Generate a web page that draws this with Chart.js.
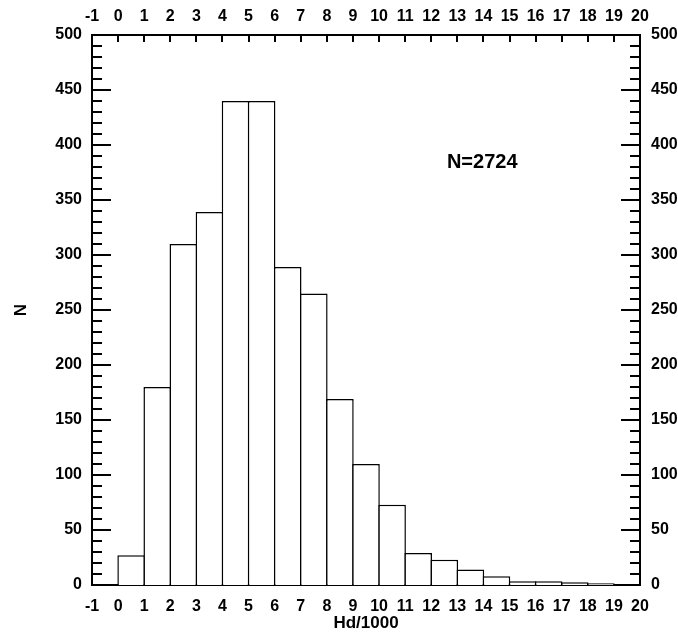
<!DOCTYPE html>
<html>
<head>
<meta charset="utf-8">
<script src="https://cdn.jsdelivr.net/npm/chart.js@4.4.1/dist/chart.umd.min.js"></script>
<style>
  body { margin: 0; background: #fff; }
  #wrap { width: 678px; height: 637px; }
</style>
</head>
<body>
<div id="wrap"><canvas id="histo" width="678" height="637"></canvas></div>
<script>
// bin edges (Hd/1000) and counts per bin
const binEdges = [0, 1, 2, 3, 4, 5, 6, 7, 8, 9, 10, 11, 12, 13, 14, 15, 16, 17, 18, 19, 20];
const counts = [27, 180, 310, 339, 440, 440, 289, 265, 169, 110, 73, 29, 23, 14, 8, 3.5, 3.5, 2.5, 1.5, 0];
const xTicks = [-1, 20];   // x range
const yTicks = [0, 500];   // y range
const totalLabel = 'N=2724';

const fontFam = '"Liberation Sans", Arial, sans-serif';
const lineW = 1.5;

// bars go from edge to edge, so use bin middle as the x value
const points = counts.map(function (c, i) {
    return { x: (binEdges[i] + binEdges[i + 1]) / 2, y: c };
});

// inward tick marks on all four sides
const innerTicks = {
    id: 'innerTicks',
    afterDraw: function (chart) {
        const ctx = chart.ctx;
        const a = chart.chartArea;
        ctx.save();
        ctx.strokeStyle = '#000';
        ctx.lineWidth = 2;
        ctx.beginPath();
        const yl = chart.scales.y;
        for (let v = yTicks[0]; v <= yTicks[1]; v += 10) {
            const p = Math.round(yl.getPixelForValue(v));
            const len = (v % 50 === 0) ? 19 : 10;
            ctx.moveTo(a.left, p); ctx.lineTo(a.left + len, p);
            ctx.moveTo(a.right, p); ctx.lineTo(a.right - len, p);
        }
        const xt = chart.scales.x2;
        for (let v = xTicks[0] + 1; v < xTicks[1]; v++) {
            const p = Math.round(xt.getPixelForValue(v));
            ctx.moveTo(p, a.top); ctx.lineTo(p, a.top + 7);
        }
        ctx.stroke();

        // total count text
        ctx.fillStyle = '#000';
        ctx.font = 'bold 20px ' + fontFam;
        ctx.textAlign = 'left';
        ctx.textBaseline = 'middle';
        ctx.fillText(totalLabel, chart.scales.x.getPixelForValue(12.6), yl.getPixelForValue(384));
        ctx.restore();
    }
};

function axisBase(pos, min, max, step, pad) {
    return {
        type: 'linear',
        position: pos,
        min: min,
        max: max,
        offset: false,
        grid: { display: false, drawTicks: false },
        border: { display: true, color: '#000', width: 2 },
        ticks: {
            stepSize: step,
            autoSkip: false,
            maxRotation: 0,
            padding: pad,
            color: '#000',
            font: { family: fontFam, size: 16, weight: 'bold' }
        }
    };
}

const sx = axisBase('bottom', xTicks[0], xTicks[1], 1, 12);
sx.title = { display: true, text: 'Hd/1000', color: '#000', padding: { top: 0, bottom: 3 },
             font: { family: fontFam, size: 17, weight: 'bold' } };
sx.afterFit = function (s) { s.height = 52; };

const sx2 = axisBase('top', xTicks[0], xTicks[1], 1, 9);
sx2.afterFit = function (s) { s.height = 35; };

const sy = axisBase('left', yTicks[0], yTicks[1], 50, 10);
sy.title = { display: true, text: 'N', color: '#000', padding: { top: 11, bottom: 0 },
             font: { family: fontFam, size: 17, weight: 'bold' } };
sy.afterFit = function (s) { s.width = 92; };

const sy2 = axisBase('right', yTicks[0], yTicks[1], 50, 11);
sy2.afterFit = function (s) { s.width = 38; };

const pxPerUnit = 548 / (xTicks[1] - xTicks[0]);

new Chart(document.getElementById('histo'), {
    type: 'bar',
    data: {
        datasets: [{
            data: points,
            backgroundColor: '#fff',
            borderColor: '#000',
            borderWidth: lineW,
            borderSkipped: 'start',
            // overlap neighbours by one line width so shared edges are single lines
            barPercentage: 1 + lineW / pxPerUnit,
            categoryPercentage: 1,
            xAxisID: 'x',
            yAxisID: 'y'
        }]
    },
    options: {
        responsive: false,
        animation: false,
        layout: { padding: 0 },
        plugins: { legend: { display: false }, tooltip: { enabled: false } },
        scales: { x: sx, x2: sx2, y: sy, y2: sy2 }
    },
    plugins: [innerTicks]
});
</script>
</body>
</html>
